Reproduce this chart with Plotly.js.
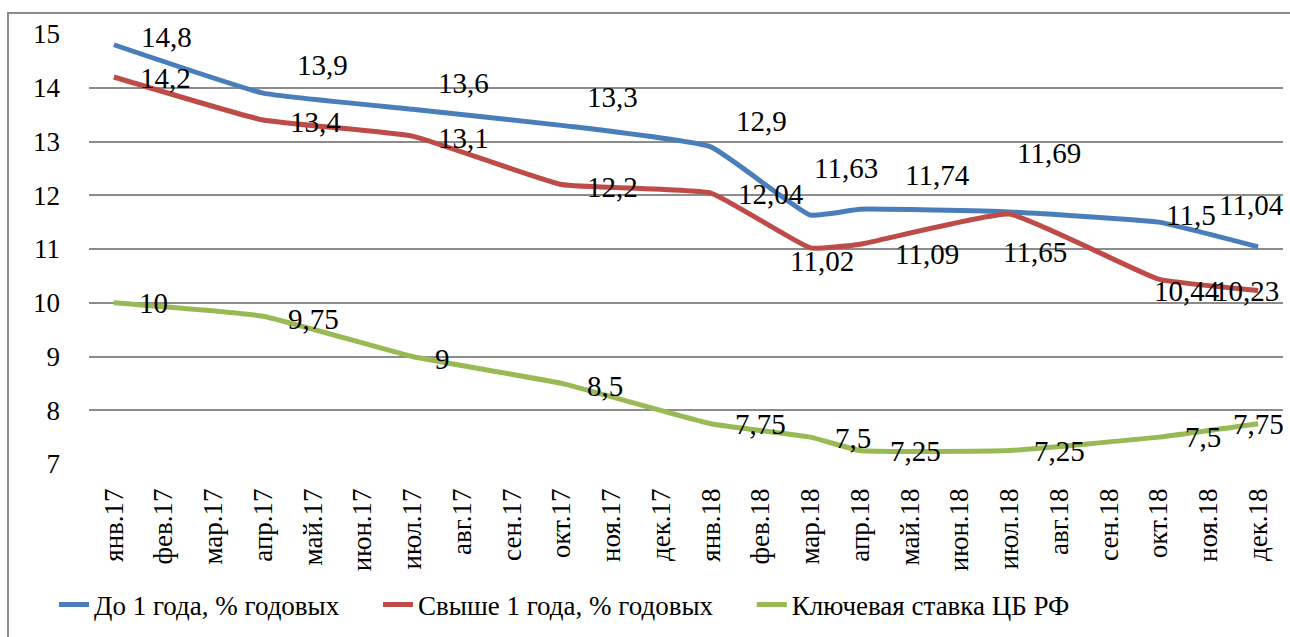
<!DOCTYPE html>
<html>
<head>
<meta charset="utf-8">
<script src="https://cdn.plot.ly/plotly-3.0.1.min.js"></script>
<style>
html,body{margin:0;padding:0;background:#fff;font-family:'Liberation Serif';}
#warm{position:absolute;left:300px;top:560px;font-family:'Liberation Serif';font-size:27px;color:#fff;}
</style>
</head>
<body>
<div id="warm">До 1 года 0123456789,</div>
<div id="chart" style="width:1290px;height:637px"></div>
<script>
const months = ['янв.17','фев.17','мар.17','апр.17','май.17','июн.17','июл.17','авг.17','сен.17','окт.17','ноя.17','дек.17',
                'янв.18','фев.18','мар.18','апр.18','май.18','июн.18','июл.18','авг.18','сен.18','окт.18','ноя.18','дек.18'];
const nameShort = 'До 1 года, % годовых';
const nameLong = 'Свыше 1 года, % годовых';
const nameKey = 'Ключевая ставка ЦБ РФ';
const shortRate = [14.8,null,null,13.9,null,null,13.6,null,null,13.3,null,null,12.9,null,11.63,11.74,null,null,11.69,null,null,11.5,null,11.04];
const longRate  = [14.2,null,null,13.4,null,null,13.1,null,null,12.2,null,null,12.04,null,11.02,11.09,null,null,11.65,null,null,10.44,null,10.23];
const keyRate   = [10,null,null,9.75,null,null,9,null,null,8.5,null,null,7.75,null,7.5,7.25,null,null,7.25,null,null,7.5,null,7.75];

// label pixel offsets (style only)
const offShort = [[53,-8],[59,-28],[51,-26],[51,-28],[51,-26],[36,-47],[77,-34],[40,-59],[32,-7],[-7,-42]];
const offLong  = [[52,1],[52,2],[51,2],[51,2],[60,1],[12,13],[67,10],[26,38],[28,12],[-12,1]];
const offKey   = [[40,0],[50,3],[30,2],[43,3],[50,0],[43,1],[55,0],[50,0],[44,0],[0,0]];

const FONT = 'Liberation Serif';
const PAD = '\u00a0\u00a0\u00a0\u00a0\u00a0';
const colors = ['#4A7EBB','#BE4B48','#98B954'];

function mk(name, ys, color){
  return {type:'scatter', mode:'lines', name:name, x:months, y:ys, connectgaps:true,
    line:{color:color, width:5, shape:'spline', smoothing:0.35}};
}

function draw(){
  const traces = [mk(nameShort+PAD, shortRate, colors[0]), mk(nameLong+PAD, longRate, colors[1]), mk(nameKey, keyRate, colors[2])];
  const annotations = [];
  function addLabels(ys, offs){
    let k = 0;
    ys.forEach((v,i)=>{
      if(v===null) return;
      const o = offs[k++] || [0,0];
      annotations.push({x:months[i], y:v, xref:'x', yref:'y', text:String(v).replace('.',','),
        showarrow:false, xanchor:'center', yanchor:'middle', xshift:o[0], yshift:-o[1],
        font:{family:FONT, size:29, color:'black'}});
    });
  }
  addLabels(shortRate, offShort);
  addLabels(longRate, offLong);
  addLabels(keyRate, offKey);

  const layout = {
    width:1290, height:637,
    margin:{l:89, r:7, t:34, b:173},
    font:{family:FONT, size:27, color:'black'},
    showlegend:true,
    legend:{orientation:'h', xref:'container', yref:'container', x:54/1290, y:(637-605)/637, xanchor:'left', yanchor:'middle',
      font:{family:FONT, size:27, color:'black'}, itemwidth:30},
    xaxis:{type:'category', range:[-0.5, months.length-0.5], tickangle:-90, showgrid:false, zeroline:false, showline:false, ticks:'',
      ticklabelstandoff:18, tickfont:{family:FONT, size:27, color:'black'}},
    yaxis:{range:[7,15], dtick:1, showgrid:true, gridcolor:'#8C8C8C', gridwidth:2, zeroline:false, showline:false, ticks:'',
      ticklabelstandoff:28, tickfont:{family:FONT, size:27, color:'black'}},
    annotations:annotations,
    shapes:[{type:'rect', xref:'paper', yref:'paper', x0:(8-89)/1194, x1:(1300-89)/1194, y0:(464-650)/430, y1:(464-13)/430,
      line:{color:'#8C8C8C', width:2}, layer:'below'}]
  };
  return Plotly.newPlot('chart', traces, layout, {displayModeBar:false});
}
function finish(){
  draw();
  const w = document.getElementById('warm');
  if (w) w.remove();
}
draw();
if (document.fonts && document.fonts.load) {
  document.fonts.load('27px "Liberation Serif"', 'До 1 года 0123,').then(finish, finish);
} else { finish(); }
</script>
</body>
</html>
